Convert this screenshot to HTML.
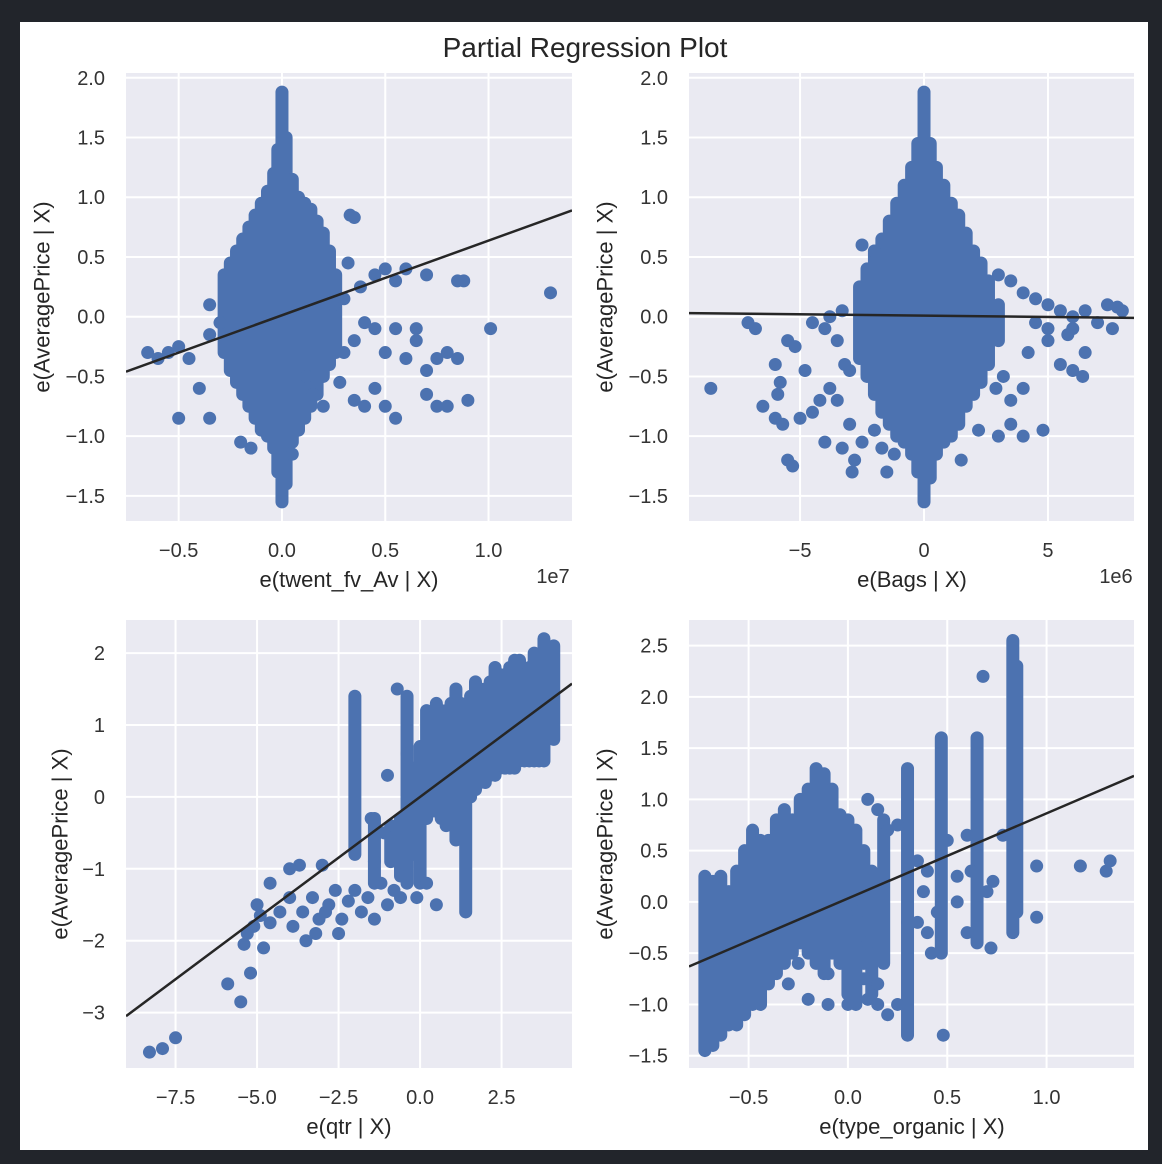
<!DOCTYPE html>
<html><head><meta charset="utf-8"><style>
html,body{margin:0;padding:0;background:#22252b;}
#wrap{position:relative;width:1162px;height:1164px;background:#22252b;}
svg{position:absolute;left:0;top:0;font-family:"Liberation Sans",sans-serif;}
</style></head><body>
<div id="wrap">
<svg id="fig" width="1162" height="1164">
<rect x="20" y="22" width="1128" height="1128" fill="#ffffff"/>
<text x="585" y="57" font-size="28" fill="#262626" text-anchor="middle">Partial Regression Plot</text>
</svg>
</div>
<script>
// ---- Panel 1: twent_fv_Av (x in 1e7) ----
const p1Strips = [[-0.28,-0.3,0.35],[-0.25,-0.45,0.45],[-0.22,-0.55,0.55],[-0.19,-0.65,0.65],[-0.16,-0.75,0.75],[-0.13,-0.85,0.85],[-0.10,-0.95,0.95],[-0.07,-1.0,1.05],[-0.04,-1.1,1.2],[-0.02,-1.3,1.4],[0.0,-1.55,1.88],[0.02,-1.4,1.5],[0.05,-1.05,1.15],[0.08,-0.95,1.0],[0.11,-0.85,0.95],[0.14,-0.75,0.9],[0.17,-0.65,0.8],[0.20,-0.5,0.7],[0.23,-0.4,0.55],[0.26,-0.3,0.35]];
const p1Points = [[-0.65,-0.3],[-0.6,-0.35],[-0.55,-0.3],[-0.5,-0.25],[-0.45,-0.35],[-0.5,-0.85],[-0.4,-0.6],[-0.35,-0.85],[-0.35,-0.15],[-0.3,-0.05],[-0.35,0.1],[0.3,-0.3],[0.33,0.85],[0.35,0.83],[0.4,-0.05],[0.45,-0.1],[0.5,-0.3],[0.45,-0.6],[0.55,-0.1],[0.55,0.3],[0.6,-0.35],[0.6,0.4],[0.65,-0.1],[0.7,0.35],[0.7,-0.45],[0.75,-0.35],[0.8,-0.3],[0.85,-0.35],[0.85,0.3],[0.88,0.3],[0.9,-0.7],[0.8,-0.75],[0.75,-0.75],[0.7,-0.65],[0.55,-0.85],[0.5,-0.75],[0.4,-0.75],[0.35,-0.7],[0.65,-0.2],[1.01,-0.1],[1.3,0.2],[0.32,0.45],[0.45,0.35],[0.5,0.4],[0.38,0.25],[0.28,-0.55],[0.2,-0.75],[0.15,-0.65],[-0.2,-1.05],[-0.15,-1.1],[0.05,-1.15],[0.12,-0.5],[0.25,0.1],[0.3,0.15],[0.35,-0.2]];
const p1Fit = [0.012, 0.625];
const p1XTicks = [-0.5,0.0,0.5,1.0];
const p1XTickLabels = ["−0.5","0.0","0.5","1.0"];
const p1YTicks = [2.0,1.5,1.0,0.5,0.0,-0.5,-1.0,-1.5];
const p1YTickLabels = ["2.0","1.5","1.0","0.5","0.0","−0.5","−1.0","−1.5"];

// ---- Panel 2: Bags (x in 1e6) ----
const p2Strips = [[-2.6,-0.35,0.25],[-2.3,-0.5,0.4],[-2.0,-0.65,0.55],[-1.7,-0.8,0.65],[-1.4,-0.9,0.8],[-1.1,-1.0,0.95],[-0.8,-1.05,1.1],[-0.5,-1.15,1.25],[-0.25,-1.3,1.45],[0,-1.55,1.88],[0.25,-1.35,1.45],[0.5,-1.15,1.25],[0.8,-1.05,1.1],[1.1,-1.0,0.95],[1.4,-0.9,0.85],[1.7,-0.75,0.7],[2.0,-0.65,0.55],[2.3,-0.55,0.45],[2.6,-0.4,0.3],[3.0,-0.2,0.1]];
const p2Points = [[-8.6,-0.6],[-6.5,-0.75],[-6,-0.85],[-5.7,-0.9],[-5.5,-1.2],[-5.3,-1.25],[-5.0,-0.85],[-4.5,-0.8],[-4.2,-0.7],[-4.0,-1.05],[-3.8,-0.6],[-3.5,-0.7],[-3,-0.9],[-2.8,-1.2],[-2.5,-1.05],[-2,-0.95],[-1.7,-1.1],[-5.2,-0.25],[-5.5,-0.2],[-4.5,-0.05],[-4,-0.1],[-3.5,-0.2],[-3.2,-0.4],[-3,-0.45],[-4.8,-0.45],[-3.8,0.0],[-3.3,0.05],[-1.5,-1.3],[-1.2,-1.15],[-2.5,0.6],[-2,0.55],[3,-1.0],[3.5,-0.9],[4,-1.0],[3.5,-0.7],[4.2,-0.3],[4,-0.6],[4.5,-0.05],[5,-0.1],[5.5,0.05],[5.8,-0.15],[6,-0.1],[6,0.0],[6.5,0.05],[7,-0.05],[7.4,0.1],[7.8,0.08],[7.6,-0.1],[6.0,-0.45],[6.4,-0.5],[6.5,-0.3],[5.5,-0.4],[5,-0.2],[3,0.35],[3.5,0.3],[4,0.2],[4.5,0.15],[5,0.1],[3.2,-0.5],[1.5,-1.2],[2.2,-0.95],[2.9,-0.6],[-6.8,-0.1],[-7.1,-0.05],[-6,-0.4],[-5.8,-0.55],[-5.9,-0.65],[4.8,-0.95],[-2.9,-1.3],[-3.3,-1.1],[8.0,0.05]];
const p2Fit = [0.009, -0.0022];
const p2XTicks = [-5,0,5];
const p2XTickLabels = ["−5","0","5"];
const p2YTicks = [2.0,1.5,1.0,0.5,0.0,-0.5,-1.0,-1.5];
const p2YTickLabels = ["2.0","1.5","1.0","0.5","0.0","−0.5","−1.0","−1.5"];

// ---- Panel 3: qtr ----
const p3Strips = [[-2.0,-0.8,1.4],[-1.4,-1.2,-0.3],[-0.9,-0.9,-0.4],[-0.6,-1.1,-0.3],[-0.4,-1.2,1.4],[-0.2,-0.8,0.4],[0.0,-1.2,0.7],[0.2,-0.3,1.2],[0.35,-0.2,1.1],[0.5,-0.2,1.3],[0.65,-0.3,1.2],[0.8,-0.4,1.2],[0.95,-0.2,1.3],[1.1,-0.6,1.5],[1.25,-0.2,1.3],[1.4,-1.6,1.2],[1.55,0.0,1.4],[1.7,0.1,1.6],[1.85,0.2,1.5],[2.0,0.2,1.5],[2.15,0.3,1.6],[2.3,0.3,1.8],[2.45,0.4,1.7],[2.6,0.4,1.7],[2.75,0.4,1.8],[2.9,0.4,1.9],[3.05,0.5,1.9],[3.2,0.5,1.7],[3.35,0.5,1.8],[3.5,0.5,2.0],[3.65,0.5,1.9],[3.8,0.5,2.2],[4.1,0.8,2.1]];
const p3Points = [[-8.3,-3.55],[-7.9,-3.5],[-7.5,-3.35],[-5.9,-2.6],[-5.5,-2.85],[-5.2,-2.45],[-5.4,-2.05],[-5.1,-1.8],[-4.9,-1.65],[-4.6,-1.75],[-4.3,-1.6],[-4,-1.4],[-3.9,-1.8],[-3.6,-1.6],[-3.5,-2.0],[-3.3,-1.4],[-3.1,-1.7],[-2.8,-1.5],[-2.6,-1.3],[-2.5,-1.9],[-2.4,-1.7],[-2.2,-1.45],[-2.0,-1.3],[-1.8,-1.6],[-1.6,-1.4],[-1.4,-1.7],[-1.2,-1.2],[-1.0,-1.5],[-0.8,-1.3],[-0.6,-1.4],[-0.4,-1.1],[-0.1,-1.4],[0.2,-1.2],[0.5,-1.5],[-3.7,-0.95],[-3.0,-0.95],[-4.6,-1.2],[-4.0,-1.0],[-5.3,-1.9],[-4.8,-2.1],[-0.4,0.6],[-1.0,0.3],[-1.5,-0.3],[-0.7,1.5],[-1.4,-0.9],[-1.1,-0.5],[-5.0,-1.5],[-2.9,-1.6],[-3.2,-1.9]];
const p3Fit = [0.0, 0.338];
const p3XTicks = [-7.5,-5.0,-2.5,0.0,2.5];
const p3XTickLabels = ["−7.5","−5.0","−2.5","0.0","2.5"];
const p3YTicks = [2,1,0,-1,-2,-3];
const p3YTickLabels = ["2","1","0","−1","−2","−3"];

// ---- Panel 4: type_organic ----
const p4Strips = [[-0.72,-1.45,0.25],[-0.68,-1.4,0.2],[-0.64,-1.3,0.25],[-0.60,-1.2,0.1],[-0.56,-1.2,0.3],[-0.52,-1.1,0.5],[-0.48,-1.0,0.7],[-0.44,-1.0,0.6],[-0.40,-0.8,0.6],[-0.36,-0.7,0.8],[-0.32,-0.6,0.9],[-0.28,-0.5,0.8],[-0.24,-0.4,1.0],[-0.20,-0.5,1.1],[-0.16,-0.6,1.3],[-0.12,-0.7,1.25],[-0.08,-0.5,1.1],[-0.04,-0.6,0.85],[0.0,-0.9,0.8],[0.04,-1.0,0.7],[0.08,-0.6,0.5],[0.12,-0.9,0.3],[0.18,-0.6,0.8],[0.30,-1.3,1.3],[0.47,-0.5,1.6],[0.65,-0.4,1.6],[0.83,-0.3,2.55],[0.85,-0.1,2.3]];
const p4Points = [[0.95,0.35],[1.17,0.35],[1.3,0.3],[1.32,0.4],[0.95,-0.15],[0.6,-0.3],[0.55,0],[0.7,0.1],[0.4,0.3],[0.35,0.4],[0.2,0.7],[0.25,0.75],[0.15,0.9],[0.1,1.0],[0.05,-0.1],[0.1,-0.4],[0.1,-0.95],[0.15,-1.0],[0.2,-1.1],[0.25,-1.0],[0.0,-1.0],[-0.1,-1.0],[0.15,-0.8],[0.35,-0.2],[0.4,-0.3],[0.45,-0.1],[0.38,0.1],[0.55,0.25],[0.6,0.65],[0.62,0.3],[0.73,0.2],[0.78,0.65],[0.72,-0.45],[0.68,2.2],[0.5,0.6],[-0.25,-0.6],[-0.3,-0.8],[-0.2,-0.95],[-0.1,-0.7],[0.08,-0.75],[0.3,-0.2],[0.48,-1.3],[0.42,-0.5]];
const p4Fit = [0.034, 0.83];
const p4XTicks = [-0.5,0.0,0.5,1.0];
const p4XTickLabels = ["−0.5","0.0","0.5","1.0"];
const p4YTicks = [2.5,2.0,1.5,1.0,0.5,0.0,-0.5,-1.0,-1.5];
const p4YTickLabels = ["2.5","2.0","1.5","1.0","0.5","0.0","−0.5","−1.0","−1.5"];

const NS = "http://www.w3.org/2000/svg";
const fig = document.getElementById('fig');
function mk(tag, attrs, parent){const e=document.createElementNS(NS,tag);for(const k in attrs)e.setAttribute(k,attrs[k]);(parent||fig).appendChild(e);return e;}

const panels = [
 {id:'twent',box:[126,73,572,521],xd:[-0.755,1.404],yd:[-1.71,2.04],strips:p1Strips,pts:p1Points,fit:p1Fit,xt:p1XTicks,xtl:p1XTickLabels,yt:p1YTicks,ytl:p1YTickLabels,xlabel:'e(twent_fv_Av | X)',xlx:349,ylx:42,off:'1e7',offx:553},
 {id:'bags',box:[689,73,1134,521],xd:[-9.48,8.47],yd:[-1.71,2.04],strips:p2Strips,pts:p2Points,fit:p2Fit,xt:p2XTicks,xtl:p2XTickLabels,yt:p2YTicks,ytl:p2YTickLabels,xlabel:'e(Bags | X)',xlx:912,ylx:605,off:'1e6',offx:1116},
 {id:'qtr',box:[126,620,572,1068],xd:[-9.02,4.66],yd:[-3.77,2.46],strips:p3Strips,pts:p3Points,fit:p3Fit,xt:p3XTicks,xtl:p3XTickLabels,yt:p3YTicks,ytl:p3YTickLabels,xlabel:'e(qtr | X)',xlx:349,ylx:60},
 {id:'organic',box:[689,620,1134,1068],xd:[-0.80,1.44],yd:[-1.62,2.75],strips:p4Strips,pts:p4Points,fit:p4Fit,xt:p4XTicks,xtl:p4XTickLabels,yt:p4YTicks,ytl:p4YTickLabels,xlabel:'e(type_organic | X)',xlx:912,ylx:605}
];

panels.forEach((p,i)=>{
 const [x0,y0,x1,y1]=p.box;
 const sx=v=>x0+(v-p.xd[0])/(p.xd[1]-p.xd[0])*(x1-x0);
 const sy=v=>y1-(v-p.yd[0])/(p.yd[1]-p.yd[0])*(y1-y0);
 const g=mk('g',{});
 
 
 const cp=mk('clipPath',{id:'cp'+i},g);
 mk('rect',{x:x0,y:y0,width:x1-x0,height:y1-y0},cp);
 const bg=mk('rect',{x:x0,y:y0,width:x1-x0,height:y1-y0,fill:'#eaeaf2'},g);
 
 
 p.xt.forEach((t,k)=>{
  const gl=mk('line',{x1:sx(t),x2:sx(t),y1:y0,y2:y1,stroke:'#fff','stroke-width':2},g);
  
  
  const tl=mk('text',{x:sx(t),y:y1+36,'font-size':20,fill:'#333','text-anchor':'middle'},g);
  tl.textContent=p.xtl[k];
  
  
 });
 p.yt.forEach((t,k)=>{
  const gl=mk('line',{x1:x0,x2:x1,y1:sy(t),y2:sy(t),stroke:'#fff','stroke-width':2},g);
  
  
  const tl=mk('text',{x:x0-21,y:sy(t)+7,'font-size':20,fill:'#333','text-anchor':'end'},g);
  tl.textContent=p.ytl[k];
  
  
 });
 const dg=mk('g',{'clip-path':'url(#cp'+i+')'},g);
 
 
 p.strips.forEach(s=>{
  const l=mk('line',{x1:sx(s[0]),x2:sx(s[0]),y1:sy(s[1]),y2:sy(s[2]),stroke:'#4c72b0','stroke-width':13,'stroke-linecap':'round'},dg);
  
  
 });
 p.pts.forEach(q=>{
  const c=mk('circle',{cx:sx(q[0]),cy:sy(q[1]),r:6.5,fill:'#4c72b0'},dg);
  
  
 });
 const fl=mk('line',{x1:sx(p.xd[0]),y1:sy(p.fit[0]+p.fit[1]*p.xd[0]),x2:sx(p.xd[1]),y2:sy(p.fit[0]+p.fit[1]*p.xd[1]),stroke:'#262626','stroke-width':2.5},dg);
 
 
 const xl=mk('text',{x:p.xlx,y:y1+66,'font-size':22,fill:'#262626','text-anchor':'middle'},g);
 xl.textContent=p.xlabel;
 
 
 const yc=(y0+y1)/2;
 const yl=mk('text',{x:p.ylx,y:yc,'font-size':22,fill:'#262626','text-anchor':'middle',transform:'rotate(-90 '+p.ylx+' '+yc+')','dominant-baseline':'central'},g);
 yl.textContent='e(AveragePrice | X)';
 
 
 if(p.off){
  const o=mk('text',{x:p.offx,y:y1+62,'font-size':20,fill:'#333','text-anchor':'middle'},g);
  o.textContent=p.off;
  
  
 }
});
</script>
</body></html>
